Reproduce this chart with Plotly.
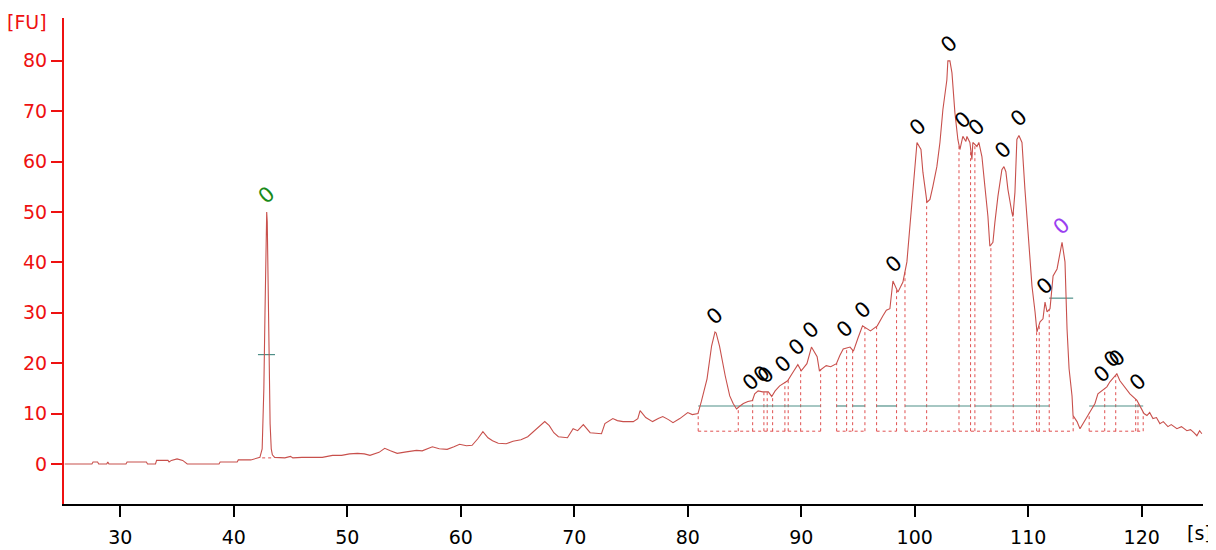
import numpy as np
import plotly.graph_objects as go

# ---------------- data ----------------
TIME = [25.1, 27.5, 27.6, 28.0, 28.1, 28.8, 28.9, 29.0, 30.5, 30.6, 32.3, 32.4, 33.1, 33.2, 34.2, 34.3, 34.5, 35.0,
        35.5, 35.9, 38.7, 38.8, 40.3, 40.4, 41.5, 42.0, 42.3,
        42.5, 42.65, 42.75, 42.8, 42.86, 42.9, 42.95, 43.0, 43.1, 43.2, 43.3, 43.4, 43.6,
        44.5, 45.0, 45.2, 46.0, 47.8, 48.7, 49.5, 50.2, 50.9, 51.5, 52.0, 52.8, 53.3, 53.8, 54.4, 55.2, 56.1, 56.6,
        57.5, 58.1, 58.8, 59.4, 59.9, 60.5, 61.0, 61.5, 61.95, 62.4, 62.8, 63.3, 64.0, 64.6, 65.3, 65.9, 66.4, 66.9,
        67.4, 67.8, 68.2, 68.6, 69.4, 69.9, 70.3, 70.8, 71.4, 72.4, 72.7, 73.4, 73.8, 74.3, 75.2, 75.6, 75.8, 76.3,
        76.9, 77.4, 77.8, 78.3, 78.7, 79.3, 80.0, 80.4, 80.9,
        81.2, 81.7, 82.1, 82.4, 82.5, 82.8, 83.3, 83.7, 84.0, 84.3, 84.6, 84.9, 85.3, 85.7, 85.9, 86.2, 86.6, 87.1,
        87.4, 87.7, 88.1, 88.6, 88.8, 89.3, 89.7, 90.0, 90.5, 90.9, 91.1, 91.4, 91.6, 92.2, 92.6, 93.1, 93.4, 93.7,
        94.3, 94.6, 95.0, 95.4, 96.1, 96.7, 97.2, 97.5, 97.81, 98.08, 98.52, 98.96, 99.31, 99.75, 100.02, 100.2,
        100.55, 100.72, 101.08, 101.34, 101.6, 101.95, 102.22, 102.48, 102.83, 102.92, 103.1, 103.28, 103.54,
        103.8, 103.98, 104.24, 104.51, 104.6, 104.86, 105.04, 105.12, 105.48, 105.65, 105.92, 106.18, 106.45,
        106.62, 106.89, 107.06, 107.33, 107.68, 107.86, 108.03, 108.21, 108.56, 108.65, 108.83, 109.0, 109.18,
        109.45, 109.71, 109.98, 110.33, 110.6, 110.77, 111.04, 111.3, 111.48, 111.66, 111.92, 112.19, 112.54,
        112.71, 112.98, 113.24, 113.42, 113.6, 113.86, 113.95, 114.3, 114.56, 114.82, 115.18, 115.44, 115.88,
        116.14, 116.49, 116.93, 117.2, 117.46, 117.81, 118.08, 118.52, 118.96, 119.58, 120.02, 120.2, 120.46,
        120.7, 120.99, 121.3, 121.6, 121.9, 122.31, 122.6, 123.1, 123.5, 123.98, 124.3, 124.6, 124.86, 125.1, 125.3]
FU = [0.0, 0.0, 0.4, 0.4, 0.0, 0.0, 0.4, 0.0, 0.0, 0.4, 0.4, 0.0, 0.0, 0.7, 0.7, 0.4, 0.7, 1.0,
      0.7, 0.0, 0.0, 0.4, 0.4, 0.8, 0.8, 1.2, 1.3,
      3.0, 15.0, 30.0, 37.0, 46.0, 50.0, 48.0, 38.0, 20.0, 8.0, 3.0, 1.8, 1.3,
      1.2, 1.5, 1.2, 1.3, 1.3, 1.7, 1.7, 2.0, 2.1, 2.0, 1.7, 2.3, 3.1, 2.6, 2.1, 2.4, 2.7, 2.6,
      3.4, 3.0, 2.9, 3.4, 3.9, 3.6, 3.7, 5.0, 6.4, 5.2, 4.6, 4.1, 4.0, 4.5, 4.8, 5.4, 6.4, 7.4,
      8.4, 7.6, 6.2, 5.4, 5.2, 7.0, 6.6, 7.8, 6.2, 6.0, 8.0, 9.0, 8.6, 8.4, 8.4, 9.0, 10.6, 9.2,
      8.4, 9.0, 9.4, 8.8, 8.2, 9.0, 10.2, 9.8, 10.0,
      12.4, 16.9, 23.4, 26.2, 26.0, 23.4, 17.5, 13.5, 12.0, 10.9, 11.5, 12.0, 12.4, 12.6, 13.9, 14.5, 14.3, 14.3,
      13.4, 14.5, 15.5, 16.3, 16.5, 18.3, 19.7, 18.5, 19.9, 23.2, 22.5, 21.3, 18.5, 19.5, 19.3, 19.9, 21.5, 22.8,
      23.2, 22.4, 25.0, 27.4, 26.4, 27.4, 29.4, 30.5, 30.8, 36.3, 34.1, 36.1, 40.1, 51.9, 59.0, 63.8,
      62.4, 57.9, 51.9, 52.5, 55.1, 59.0, 63.8, 70.3, 76.2, 80.0, 80.0, 77.6, 69.7,
      64.4, 62.4, 65.0, 64.0, 65.0, 63.8, 60.4, 63.8, 63.0, 63.8, 61.0, 55.1, 49.1,
      43.2, 44.0, 47.9, 53.1, 58.4, 59.0, 58.0, 54.5, 49.9, 49.1, 53.9, 64.4, 65.2,
      63.8, 54.5, 45.2, 35.3, 30.2, 26.2, 28.2, 28.8, 32.1, 30.2, 30.8, 37.3, 38.7,
      40.6, 44.0, 40.1, 26.8, 18.9, 13.5, 9.6, 8.4, 7.0, 8.0, 9.4, 10.4, 12.0,
      13.9, 14.5, 15.3, 16.3, 16.9, 17.9, 16.5, 15.3, 13.9, 12.6, 10.6, 10.0, 9.6,
      10.2, 9.0, 9.2, 8.0, 8.4, 7.4, 7.8, 7.0, 7.4, 6.6, 6.8, 6.2, 5.6, 6.6, 6.0]

# peak labels ("0" size labels)
LABEL_T = [82.38, 85.55, 86.52, 86.87, 88.37, 89.60, 90.85, 93.84, 95.43, 98.16, 100.28, 103.01, 104.25,
           105.48, 107.77, 109.18, 111.47, 116.49, 117.37, 117.81, 119.66]
LABEL_FU = [29.4, 16.3, 17.9, 17.7, 19.9, 23.2, 26.6, 26.8, 30.6, 39.7, 66.9, 83.4, 68.3,
            66.8, 62.4, 68.7, 35.3, 17.9, 20.9, 21.1, 16.3]
LABEL_TEXT = "0"
LOWER_MARKER = (42.9, 53.3)    # green marker label
UPPER_MARKER = (112.96, 47.2)  # purple marker label

# peak boundaries (s)
BOUNDARIES = [80.92, 84.45, 85.72, 86.71, 87.0, 87.48, 88.56, 88.85, 89.95, 91.71, 93.12, 94.0, 94.53,
              95.61, 96.64, 98.40, 99.14, 101.05, 103.90, 104.92, 105.30, 106.71, 108.68, 110.74, 110.97,
              111.85, 113.96, 115.37, 116.74, 117.71, 119.47, 119.67, 120.13]
BASELINE_SEGS = [(80.92, 91.71), (93.12, 94.0), (94.53, 95.61), (96.64, 98.40), (99.14, 104.92),
                 (105.30, 111.85), (115.37, 120.13)]
BOTTOM_SEGS = [(80.92, 91.71), (93.12, 95.61), (96.64, 98.40), (99.14, 113.96), (115.37, 120.13)]
BASELINE_FU = 11.5
BOTTOM_FU = 6.5
MARKER_LINES = [(42.13, 43.63, 21.7), (111.85, 113.96, 32.9)]
LOWER_BOTTOM = (42.5, 43.4, 1.2)

X_TICKS = [30, 40, 50, 60, 70, 80, 90, 100, 110, 120]
Y_TICKS = [0, 10, 20, 30, 40, 50, 60, 70, 80]

# ---------------- figure ----------------
TRACE_C = "#C8504C"
DOT_C = "#E05050"
TEAL_C = "#4F8F88"
AXIS_RED = "#EE1111"
FONT = "DejaVu Sans"
TICK_SIZE = 19

t_arr = np.array(TIME)
f_arr = np.array(FU)

fig = go.Figure()

# dotted peak boundary lines
vx, vy = [], []
for b in BOUNDARIES:
    vx += [b, b, None]
    vy += [BOTTOM_FU, float(np.interp(b, t_arr, f_arr)), None]
for a, b in BOTTOM_SEGS:
    vx += [a, b, None]
    vy += [BOTTOM_FU, BOTTOM_FU, None]
vx += [LOWER_BOTTOM[0], LOWER_BOTTOM[1], None]
vy += [LOWER_BOTTOM[2], LOWER_BOTTOM[2], None]
fig.add_trace(go.Scatter(x=vx, y=vy, mode="lines", line=dict(color=DOT_C, width=1, dash="dot"),
                         hoverinfo="skip", showlegend=False))

# teal baselines
bx, by = [], []
for a, b in BASELINE_SEGS:
    bx += [a, b, None]
    by += [BASELINE_FU, BASELINE_FU, None]
for a, b, v in MARKER_LINES:
    bx += [a, b, None]
    by += [v, v, None]
fig.add_trace(go.Scatter(x=bx, y=by, mode="lines", line=dict(color=TEAL_C, width=1.2),
                         hoverinfo="skip", showlegend=False))

# main electropherogram
fig.add_trace(go.Scatter(x=TIME, y=FU, mode="lines", line=dict(color=TRACE_C, width=1.1),
                         showlegend=False))

# labels
LABEL_SIZE = 21
for t, v in zip(LABEL_T, LABEL_FU):
    fig.add_annotation(x=t, y=v, text=LABEL_TEXT, showarrow=False, textangle=-42,
                       font=dict(family=FONT, size=LABEL_SIZE, color="black"))
fig.add_annotation(x=LOWER_MARKER[0], y=LOWER_MARKER[1], text=LABEL_TEXT, showarrow=False, textangle=-42,
                   font=dict(family=FONT, size=LABEL_SIZE, color="#1A8A1A"))
fig.add_annotation(x=UPPER_MARKER[0], y=UPPER_MARKER[1], text=LABEL_TEXT, showarrow=False, textangle=-42,
                   font=dict(family=FONT, size=LABEL_SIZE, color="#9A40F0"))

# unit labels
fig.add_annotation(xref="paper", yref="paper", x=-0.0328, y=0.992, text="[FU]", showarrow=False,
                   xanchor="center", yanchor="middle", font=dict(family=FONT, size=TICK_SIZE, color=AXIS_RED))
fig.add_annotation(xref="paper", yref="paper", x=0.9965, y=-0.060, text="[s]", showarrow=False,
                   xanchor="center", yanchor="middle", font=dict(family=FONT, size=TICK_SIZE, color="black"))

fig.update_layout(
    width=1216, height=550,
    margin=dict(l=56, r=21, t=10, b=52),
    paper_bgcolor="white", plot_bgcolor="white",
    font=dict(family=FONT, size=TICK_SIZE),
    xaxis=dict(range=[25.04, 125.4], tickvals=X_TICKS, showgrid=False, zeroline=False,
               showline=True, linecolor="black", linewidth=2, ticks="outside", ticklen=11,
               tickwidth=2, tickcolor="black", ticklabelstandoff=4,
               tickfont=dict(family=FONT, size=TICK_SIZE, color="black")),
    yaxis=dict(range=[-7.95, 88.5], tickvals=Y_TICKS, showgrid=False, zeroline=False,
               showline=True, linecolor=AXIS_RED, linewidth=2, ticks="outside", ticklen=11,
               tickwidth=2, tickcolor=AXIS_RED,
               tickfont=dict(family=FONT, size=TICK_SIZE, color=AXIS_RED)),
)

fig.write_html("out.html")
